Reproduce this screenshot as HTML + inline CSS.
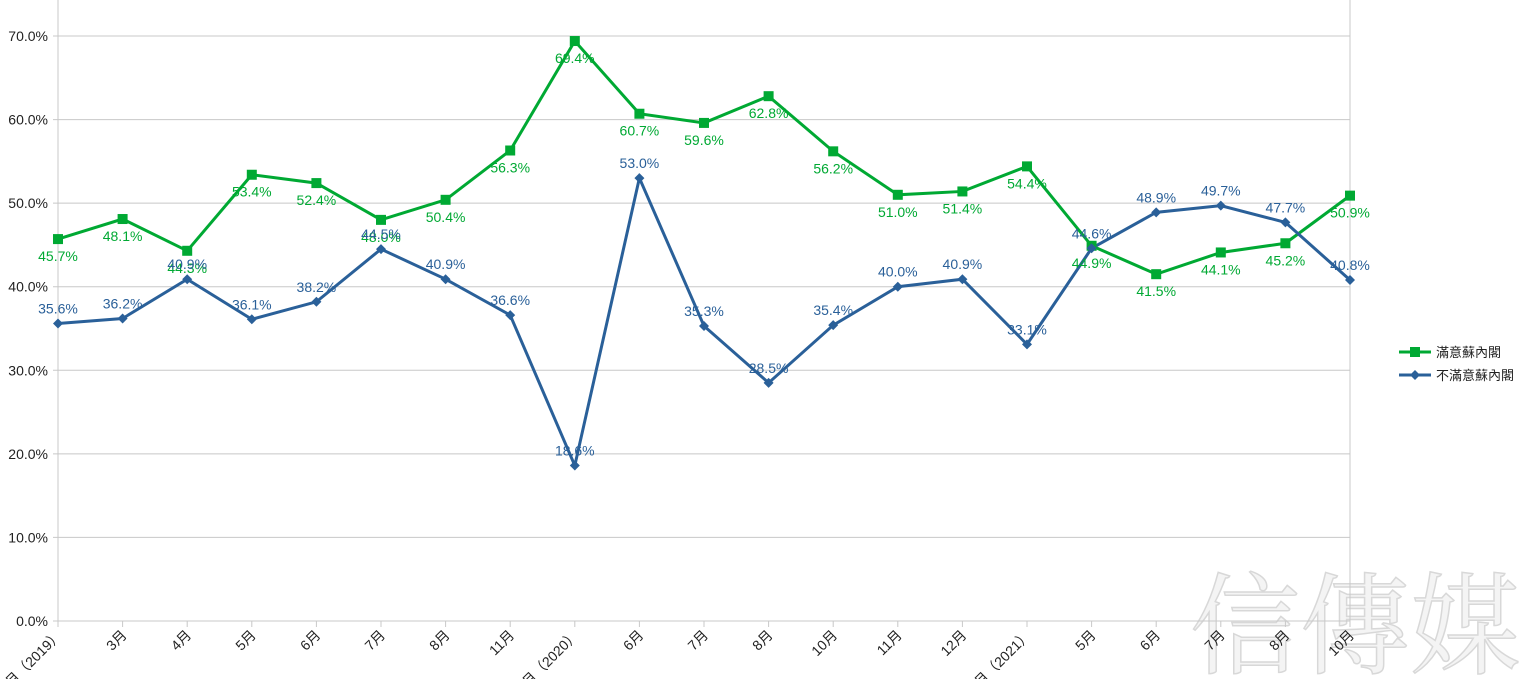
<!DOCTYPE html><html><head><meta charset="utf-8"><style>body{margin:0;background:#fff}svg{display:block}</style></head><body>
<svg id="s" width="1536" height="679" xmlns="http://www.w3.org/2000/svg" font-family="Liberation Sans, Noto Sans CJK TC, sans-serif"></svg>
<script>
const g=[45.7,48.1,44.3,53.4,52.4,48.0,50.4,56.3,69.4,60.7,59.6,62.8,56.2,51.0,51.4,54.4,44.9,41.5,44.1,45.2,50.9];
const b=[35.6,36.2,40.9,36.1,38.2,44.5,40.9,36.6,18.6,53.0,35.3,28.5,35.4,40.0,40.9,33.1,44.6,48.9,49.7,47.7,40.8];
const xl=["1月（2019）","3月","4月","5月","6月","7月","8月","11月","1月（2020）","6月","7月","8月","10月","11月","12月","1月（2021）","5月","6月","7月","8月","10月"];
const X=i=>58+i*64.6, Y=v=>621-v*8.357;
let h='';
h+='<text x="1355" y="665" font-size="110" fill="#f4f4f4" stroke="#d8d8d8" stroke-width="1.5" text-anchor="middle" font-family="Noto Serif CJK SC, serif">信傳媒</text>';
for(let k=0;k<=7;k++){const y=Y(k*10);h+=`<line x1="53" x2="1350" y1="${y}" y2="${y}" stroke="#c8c8c8"/><text x="48" y="${y+5}" font-size="14" fill="#222" text-anchor="end">${k*10}.0%</text>`;}
h+='<line x1="58" x2="58" y1="0" y2="621" stroke="#c8c8c8"/><line x1="1350" x2="1350" y1="0" y2="621" stroke="#c8c8c8"/>';
xl.forEach((t,i)=>{const x=X(i);h+=`<line x1="${x}" x2="${x}" y1="621" y2="627" stroke="#c8c8c8"/><text transform="translate(${x+5},${636}) rotate(-45)" font-size="14" fill="#222" text-anchor="end">${t}</text>`;});
h+=`<polyline fill="none" stroke="#00a933" stroke-width="3" points="${g.map((v,i)=>X(i)+','+Y(v)).join(' ')}"/>`;
h+=`<polyline fill="none" stroke="#2a6099" stroke-width="3" points="${b.map((v,i)=>X(i)+','+Y(v)).join(' ')}"/>`;
g.forEach((v,i)=>{h+=`<rect x="${X(i)-5}" y="${Y(v)-5}" width="10" height="10" fill="#00a933"/><text x="${X(i)}" y="${Y(v)+22}" font-size="14" fill="#00a933" text-anchor="middle">${v.toFixed(1)}%</text>`;});
b.forEach((v,i)=>{const x=X(i),y=Y(v);h+=`<polygon points="${x},${y-5} ${x+5},${y} ${x},${y+5} ${x-5},${y}" fill="#2a6099"/><text x="${x}" y="${y-10}" font-size="14" fill="#2a6099" text-anchor="middle">${v.toFixed(1)}%</text>`;});
h+='<line x1="1399" x2="1431" y1="352" y2="352" stroke="#00a933" stroke-width="3"/><rect x="1410" y="347" width="10" height="10" fill="#00a933"/><text x="1436" y="357" font-size="13" fill="#222">滿意蘇內閣</text>';
h+='<line x1="1399" x2="1431" y1="375" y2="375" stroke="#2a6099" stroke-width="3"/><polygon points="1415,370 1420,375 1415,380 1410,375" fill="#2a6099"/><text x="1436" y="380" font-size="13" fill="#222">不滿意蘇內閣</text>';
document.getElementById('s').innerHTML=h;
</script></body></html>
